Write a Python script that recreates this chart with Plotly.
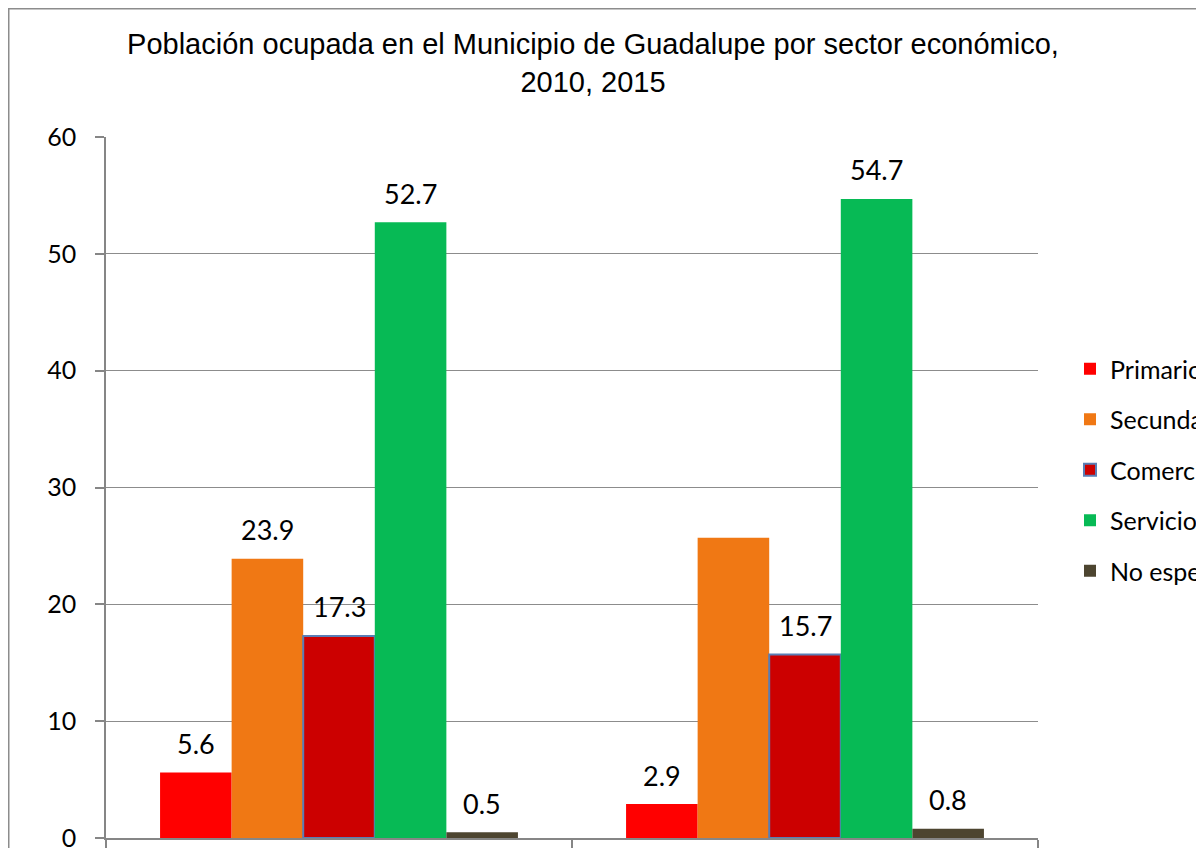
import plotly.graph_objects as go

years = ["2010", "2015"]
sectors = ["Primario", "Secundario", "Comercio", "Servicios", "No especificado"]
primario = [5.6, 2.9]
secundario = [23.9, 25.7]
comercio = [17.3, 15.7]
servicios = [52.7, 54.7]
no_especificado = [0.5, 0.8]
# labels shown in the reference (Secundario 2015 has none)
labels_primario = ["5.6", "2.9"]
labels_secundario = ["23.9", ""]
labels_comercio = ["17.3", "15.7"]
labels_servicios = ["52.7", "54.7"]
labels_no_esp = ["0.5", "0.8"]

series = [primario, secundario, comercio, servicios, no_especificado]
labels = [labels_primario, labels_secundario, labels_comercio, labels_servicios, labels_no_esp]
colors = ["#FF0000", "#F07814", "#CC0000", "#07BA55", "#4D4530"]
line_colors = [None, None, "#5A7EB5", None, None]

W, H = 1204, 848
ml, mt = 98, 129
pw, ph = 932, 701
mr = W - ml - pw
mb = H - mt - ph
bargap = 0.232

fig = go.Figure()
for j, (name, vals, col, lc) in enumerate(zip(sectors, series, colors, line_colors)):
    marker = dict(color=col)
    if lc:
        marker["line"] = dict(color=lc, width=2)
    else:
        marker["line"] = dict(width=0)
    fig.add_trace(go.Bar(x=years, y=vals, name=name, marker=marker,
                         legendgroup=name, hoverinfo="skip", cliponaxis=False))

bw = (1 - bargap) / len(sectors)
annotations = []
for j, (vals, labs) in enumerate(zip(series, labels)):
    for i, (v, t) in enumerate(zip(vals, labs)):
        if not t:
            continue
        annotations.append(dict(
            x=i + (j - (len(sectors) - 1) / 2) * bw, y=v, xref="x", yref="y",
            text=t, showarrow=False, yshift=29, yanchor="middle",
            font=dict(family="Lato", size=27, color="#000000")))

fig.add_shape(type="rect", xref="paper", yref="paper",
              x0=(0.75 - ml) / pw, x1=(W + 10 - ml) / pw,
              y0=-(mb + 10) / ph, y1=(H - mb - 0.75) / ph,
              line=dict(color="#8C8C8C", width=1.5), layer="below")

fig.update_layout(
    width=W, height=H, autosize=False,
    margin=dict(l=ml, r=mr, t=mt, b=mb, pad=0, autoexpand=False),
    paper_bgcolor="white", plot_bgcolor="white",
    barmode="group", bargap=bargap, bargroupgap=0,
    title=dict(text="Población ocupada en el Municipio de Guadalupe por sector económico,<br>2010, 2015",
               x=585 / W, xref="container", xanchor="center",
               y=1 - 46 / H, yref="container", yanchor="top",
               font=dict(family="Liberation Sans", size=29, color="#000000")),
    legend=dict(xref="container", yref="container", x=1062 / W, y=1 - 338 / H,
                xanchor="left", yanchor="top",
                font=dict(family="Lato", size=25, color="#000000"),
                tracegroupgap=15, traceorder="grouped", bgcolor="rgba(0,0,0,0)"),
    annotations=annotations,
    showlegend=True,
)
fig.update_xaxes(type="category", showticklabels=False, tickson="boundaries",
                 ticks="outside", ticklen=16, tickcolor="#868686", tickwidth=1.5,
                 showline=True, linecolor="#868686", linewidth=1.5,
                 showgrid=False, zeroline=False, fixedrange=True, automargin=False)
fig.update_yaxes(range=[0, 60], dtick=10, tick0=0, ticks="outside", ticklen=9,
                 tickcolor="#868686", tickwidth=1.5,
                 showline=True, linecolor="#868686", linewidth=1.5,
                 showgrid=True, gridcolor="#8C8C8C", gridwidth=1.2,
                 zeroline=False, ticklabelstandoff=14,
                 tickfont=dict(family="Lato", size=25, color="#000000"),
                 fixedrange=True, automargin=False)

fig.write_html("out.html")
